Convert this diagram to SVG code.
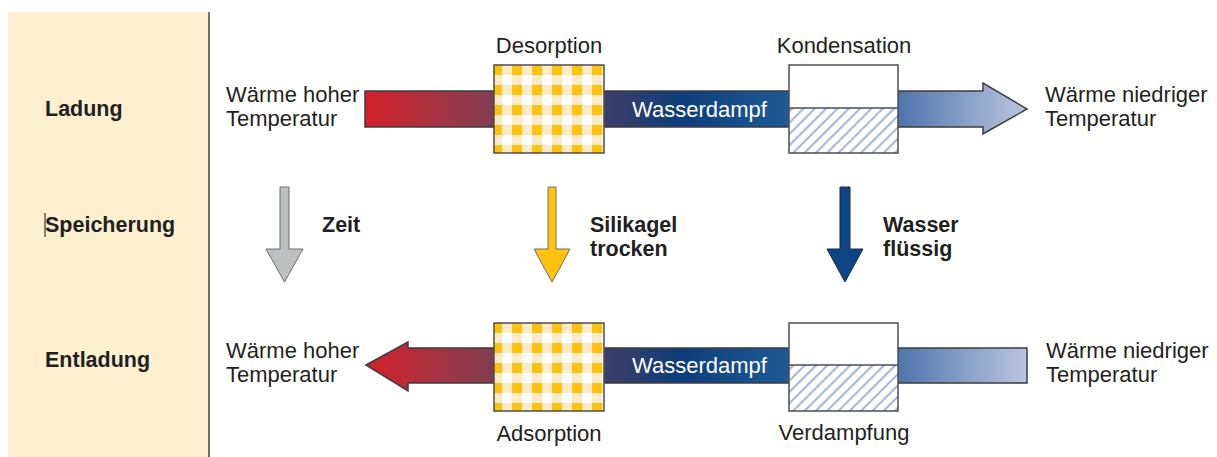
<svg xmlns="http://www.w3.org/2000/svg" width="1217" height="457" viewBox="0 0 1217 457">
<style>
.t{font-family:"Liberation Sans",Arial,sans-serif;font-size:22px;fill:#231F20}
.b{font-family:"Liberation Sans",Arial,sans-serif;font-size:21.5px;font-weight:bold;fill:#231F20}
.w{font-family:"Liberation Sans",Arial,sans-serif;font-size:22px;fill:#fff}
.box{stroke:#4d4d4d;stroke-width:1.5}
.arr{stroke:#3d3d3d;stroke-width:1.5}
</style>
<defs>
<linearGradient id="heat" gradientUnits="userSpaceOnUse" x1="365" y1="0" x2="1027" y2="0">
<stop offset="0" stop-color="#D4212A"/>
<stop offset="0.195" stop-color="#7F3F52"/>
<stop offset="0.361" stop-color="#403D68"/>
<stop offset="0.476" stop-color="#0E3E7A"/>
<stop offset="0.64" stop-color="#1E5A93"/>
<stop offset="0.805" stop-color="#5074AC"/>
<stop offset="1" stop-color="#BAC6DF"/>
</linearGradient>
<pattern id="ging" patternUnits="userSpaceOnUse" x="-2" y="0" width="20" height="20">
<rect width="20" height="20" fill="#fff"/>
<rect x="0" y="0" width="10" height="20" fill="#FDEBC6"/>
<rect x="0" y="0" width="20" height="10" fill="#FDEBC6"/>
<rect x="0" y="0" width="10" height="10" fill="#FFC20E"/>
</pattern>
<pattern id="hatch" patternUnits="userSpaceOnUse" width="8" height="8" patternTransform="rotate(45)">
<rect width="8" height="8" fill="#fff"/>
<rect x="0" y="0" width="2.2" height="8" fill="#AAB9DA"/>
</pattern>
</defs>

<g id="sidebar">
<rect x="8" y="12" width="201" height="445" fill="#FDEFD0"/>
<line x1="209" y1="12" x2="209" y2="457" stroke="#444" stroke-width="1.5"/>
<text class="b" x="45" y="116">Ladung</text>
<line x1="45" y1="213" x2="45" y2="237" stroke="#333" stroke-width="1.2"/>
<text class="b" x="45" y="232">Speicherung</text>
<text class="b" x="45" y="367">Entladung</text>
</g>

<g id="connectors">
<path class="arr" d="M365,91 H983 V83 L1027,109 L983,134 V127 H365 Z" fill="url(#heat)"/>
<path class="arr" d="M366,365 L408,342 V348 H1027 V383 H408 V391 Z" fill="url(#heat)"/>
<path d="M280,187 H289 V249 H303 L284.5,282 L266,249 H280 Z" fill="#BCBEC0" stroke="#6D6E71" stroke-width="1"/>
<path d="M548,187 H556 V249 H570 L552,282 L534,249 H548 Z" fill="#FFC20E" stroke="#6D6E71" stroke-width="1"/>
<path d="M840,187 H850 V249 H863 L845,282 L827,249 H840 Z" fill="#0E4683" stroke="#1a2a4a" stroke-width="1"/>
</g>

<g id="waerme-hoch-oben">
<text class="t" x="226" y="102">Wärme hoher</text>
<text class="t" x="226" y="126">Temperatur</text>
</g>
<g id="waerme-niedrig-oben">
<text class="t" x="1045" y="102">Wärme niedriger</text>
<text class="t" x="1045" y="126">Temperatur</text>
</g>
<g id="waerme-hoch-unten">
<text class="t" x="226" y="358">Wärme hoher</text>
<text class="t" x="226" y="382">Temperatur</text>
</g>
<g id="waerme-niedrig-unten">
<text class="t" x="1046" y="358">Wärme niedriger</text>
<text class="t" x="1046" y="382">Temperatur</text>
</g>

<g id="desorption" transform="translate(494,65)">
<rect class="box" x="0" y="0" width="110" height="88" fill="url(#ging)"/>
<text class="t" x="55" y="-12" text-anchor="middle">Desorption</text>
</g>
<g id="adsorption" transform="translate(494,323)">
<rect class="box" x="0" y="0" width="110" height="88" fill="url(#ging)"/>
<text class="t" x="55" y="118" text-anchor="middle">Adsorption</text>
</g>

<g id="kondensation" transform="translate(789,65)">
<rect x="0" y="43" width="109" height="45" fill="url(#hatch)"/>
<rect x="0" y="0" width="109" height="43" fill="#fff"/>
<rect class="box" x="0" y="0" width="109" height="88" fill="none"/>
<line class="box" x1="0" y1="43" x2="109" y2="43"/>
<text class="t" x="55" y="-12" text-anchor="middle">Kondensation</text>
</g>
<g id="verdampfung" transform="translate(789,323)">
<rect x="0" y="42" width="109" height="46" fill="url(#hatch)"/>
<rect x="0" y="0" width="109" height="42" fill="#fff"/>
<rect class="box" x="0" y="0" width="109" height="88" fill="none"/>
<line class="box" x1="0" y1="42" x2="109" y2="42"/>
<text class="t" x="55" y="117" text-anchor="middle">Verdampfung</text>
</g>

<g id="wasserdampf-labels">
<text class="w" x="632" y="117">Wasserdampf</text>
<text class="w" x="632" y="373">Wasserdampf</text>
</g>

<g id="speicher-labels">
<text class="b" x="322" y="232">Zeit</text>
<text class="b" x="590" y="232">Silikagel</text>
<text class="b" x="590" y="256">trocken</text>
<text class="b" x="883" y="232">Wasser</text>
<text class="b" x="883" y="256">flüssig</text>
</g>
</svg>
